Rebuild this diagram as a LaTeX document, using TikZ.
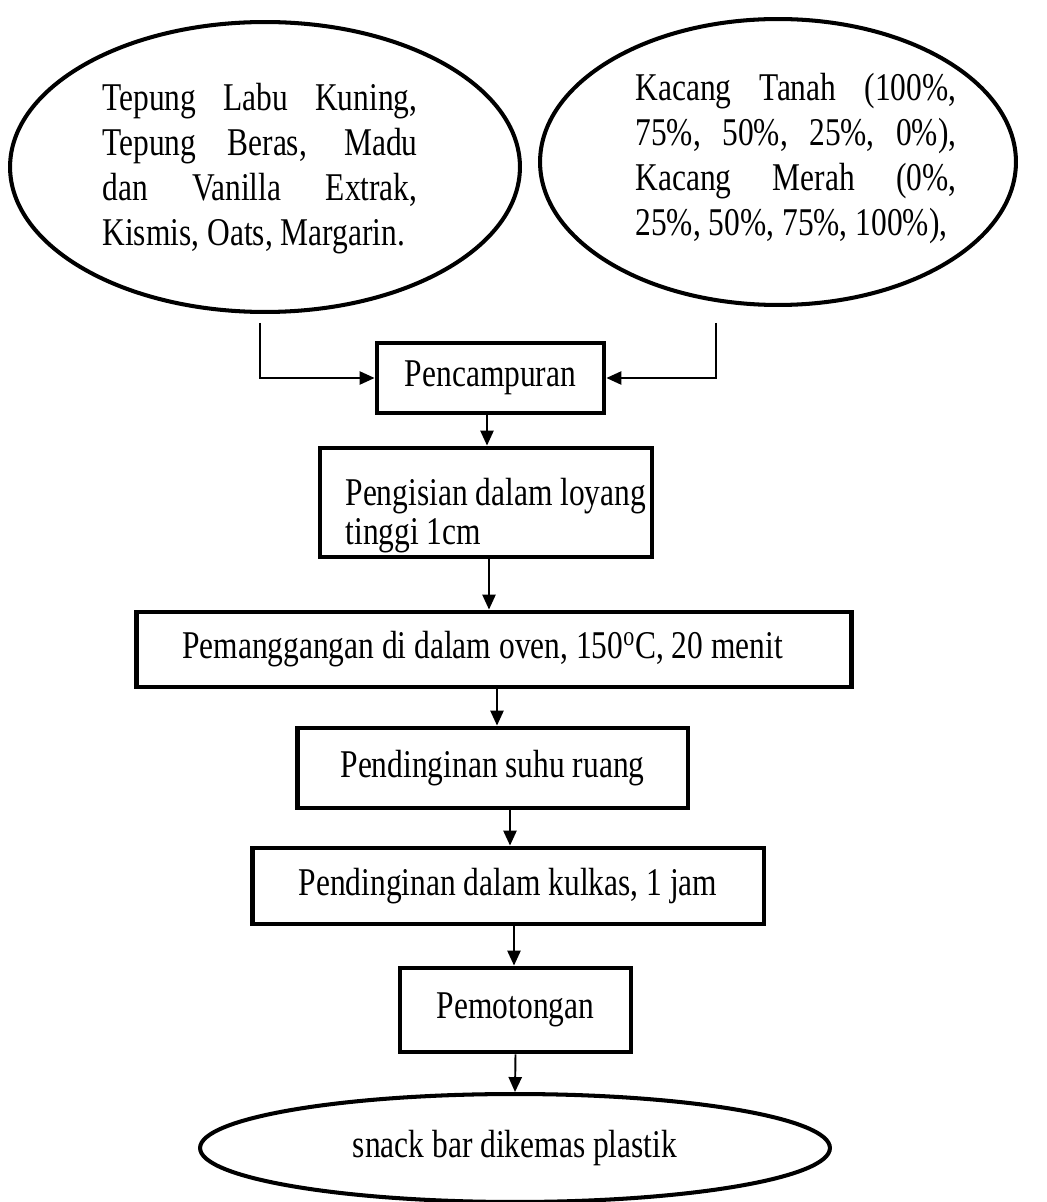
\documentclass[tikz,border=0pt]{standalone}
\usepackage{fontspec}
\setmainfont{Liberation Serif}
\usepackage{graphicx}
\usetikzlibrary{arrows.meta,shapes.geometric}

\newcommand{\tinggi}[1]{\scalebox{1}[1.25]{#1}}
\newcommand{\baris}[2]{\makebox[#1][s]{#2}}

\begin{document}
\begin{tikzpicture}[x=0.02cm,y=-0.02cm]
\useasboundingbox (0,0) rectangle (1046,1202);
\tikzset{
oval/.style={ellipse,draw,line width=2.3pt,inner sep=0pt},
proses/.style={rectangle,draw,line width=2.8pt,inner sep=0pt},
isi/.style={font=\fontsize{17.9pt}{20.5pt}\selectfont,inner sep=0pt},
alir/.style={draw,line width=1.1pt,-{Triangle[length=8.5pt,width=7.5pt]}}
}

% bahan baku
\node[oval,minimum width=10.2cm,minimum height=5.8cm] (bahanA) at (265,167) {};
\node[oval,minimum width=9.52cm,minimum height=5.72cm] (bahanB) at (778,162) {};
\node[isi] (teksA) at (260,169) {\tinggi{\parbox{6.3cm}{%
\baris{6.3cm}{Tepung Labu Kuning,}\\
\baris{6.3cm}{Tepung Beras, Madu}\\
\baris{6.3cm}{dan Vanilla Extrak,}\\
Kismis, Oats, Margarin.}}};
\node[isi] (teksB) at (796,159) {\tinggi{\parbox{6.42cm}{%
\baris{6.42cm}{Kacang Tanah (100\%,}\\
\baris{6.42cm}{75\%, 50\%, 25\%, 0\%),}\\
\baris{6.42cm}{Kacang Merah (0\%,}\\
25\%, 50\%, 75\%, 100\%),}}};

% tahapan proses
\node[proses,isi,minimum width=4.54cm,minimum height=1.4cm] (campur) at (490.5,378) {\tinggi{Pencampuran}};
\node[proses,isi,minimum width=6.64cm,minimum height=2.18cm] (isiloyang) at (486,502.5) {\hspace*{0.48cm}\tinggi{\parbox{6.1cm}{\vspace*{0.42cm}\baselineskip=17.7pt Pengisian dalam loyang\\ tinggi 1cm}}};
\node[proses,isi,minimum width=14.32cm,minimum height=1.5cm] (panggang) at (494,649.5) {\tinggi{Pemanggangan di dalam oven, 150\textsuperscript{o}C, 20 menit}\hspace*{0.46cm}};
\node[proses,isi,minimum width=7.82cm,minimum height=1.6cm] (dinginA) at (492.5,768) {\tinggi{Pendinginan suhu ruang}};
\node[proses,isi,minimum width=10.24cm,minimum height=1.52cm] (dinginB) at (508,886) {\tinggi{Pendinginan dalam kulkas, 1 jam}};
\node[proses,isi,minimum width=4.62cm,minimum height=1.68cm] (potong) at (515.5,1010) {\tinggi{Pemotongan}};
\node[oval,isi,minimum width=12.6cm,minimum height=2.16cm] (kemas) at (515,1148) {\tinggi{snack bar dikemas plastik}};

% aliran
\coordinate (ujungA) at (260,323);
\coordinate (ujungB) at (716,323);
\draw[alir] (ujungA) |- (campur.west);
\draw[alir] (ujungB) |- (campur.east);
\draw[alir] ([xshift=-0.07cm]campur.south) -- ([xshift=-0.07cm]campur.south |- isiloyang.north);
\draw[alir] ([xshift=0.06cm]isiloyang.south) -- ([xshift=0.06cm]isiloyang.south |- panggang.north);
\draw[alir] ([xshift=0.06cm]panggang.south) -- ([xshift=0.06cm]panggang.south |- dinginA.north);
\draw[alir] ([xshift=0.35cm]dinginA.south) -- ([xshift=0.35cm]dinginA.south |- dinginB.north);
\draw[alir] ([xshift=0.12cm]dinginB.south) -- ([xshift=0.12cm]dinginB.south |- potong.north);
\draw[alir] (potong.south) -- (kemas.north);
\end{tikzpicture}
\end{document}
